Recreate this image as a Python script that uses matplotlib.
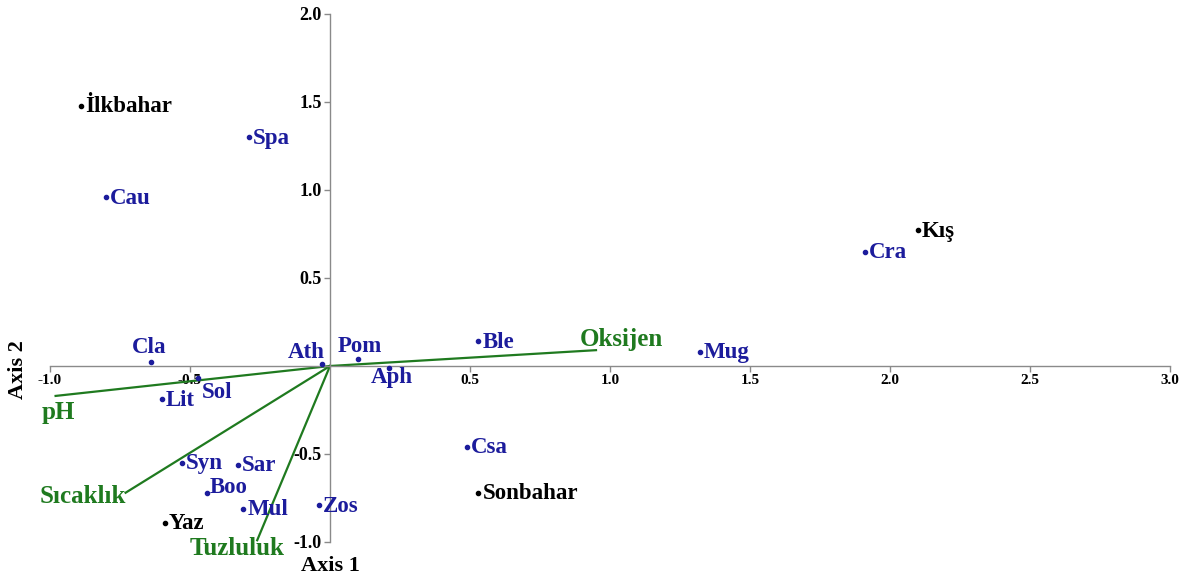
import matplotlib.pyplot as plt

# species scores on the first two axes
species = ['Spa', 'Cau', 'Cra', 'Cla', 'Ath', 'Pom', 'Aph', 'Ble', 'Mug',
           'Lit', 'Sol', 'Csa', 'Syn', 'Sar', 'Boo', 'Mul', 'Zos']
sp_x = [-0.29, -0.80, 1.91, -0.64, -0.03, 0.10, 0.21, 0.53, 1.32,
        -0.60, -0.47, 0.49, -0.53, -0.33, -0.44, -0.31, -0.04]
sp_y = [1.30, 0.96, 0.65, 0.02, 0.01, 0.04, -0.01, 0.14, 0.08,
        -0.19, -0.07, -0.46, -0.55, -0.56, -0.72, -0.81, -0.79]

# seasons
seasons = ['İlkbahar', 'Kış', 'Sonbahar', 'Yaz']
se_x = [-0.89, 2.10, 0.53, -0.59]
se_y = [1.48, 0.77, -0.72, -0.89]

# environmental vectors
env = ['pH', 'Oksijen', 'Sıcaklık', 'Tuzluluk']
env_x = [-0.98, 0.95, -0.73, -0.26]
env_y = [-0.17, 0.09, -0.72, -0.99]

x_ticks = [-1.0, -0.5, 0.5, 1.0, 1.5, 2.0, 2.5, 3.0]
y_ticks = [-1.0, -0.5, 0.5, 1.0, 1.5, 2.0]

blue = '#1c1c9c'
green = '#1f7a1f'
font = 'Liberation Serif'

# label placement: (dx, dy in pixels, ha)
sp_pos = {
    'Cla': (-2, 15, 'center'),
    'Ath': (3, 12, 'right'),
    'Pom': (2, 12, 'center'),
    'Aph': (3, -10, 'center'),
    'Sol': (3, -14, 'left'),
    'Boo': (3, 5, 'left'),
}
env_pos = {
    'pH': (-14, -17, 'left'),
    'Oksijen': (-16, 11, 'left'),
    'Sıcaklık': (0, -4, 'right'),
    'Tuzluluk': (-20, -8, 'center'),
}

fig = plt.figure(figsize=(11.89, 5.82), dpi=100)
ax = fig.add_axes([0, 0, 1, 1])
ax.set_xlim(-330 / 280, (1189 - 330) / 280)
ax.set_ylim((366 - 582) / 176, 366 / 176)

for s in ['top', 'right']:
    ax.spines[s].set_visible(False)
ax.spines['bottom'].set_position(('data', 0))
ax.spines['left'].set_position(('data', 0))
ax.spines['bottom'].set_bounds(-1, 3)
ax.spines['left'].set_bounds(-1, 2)
for s in ['bottom', 'left']:
    ax.spines[s].set_color('#8a8a8a')
    ax.spines[s].set_linewidth(1.0)

ax.set_xticks(x_ticks)
ax.set_yticks(y_ticks)
ax.set_xticklabels(['%.1f' % v for v in x_ticks], fontfamily=font,
                   fontweight='bold', fontsize=11)
ax.set_yticklabels(['%.1f' % v for v in y_ticks], fontfamily=font,
                   fontweight='bold', fontsize=13)
ax.tick_params(axis='both', direction='out', length=4, width=1,
               color='#8a8a8a', pad=2)

# vectors
for name, x, y in zip(env, env_x, env_y):
    ax.plot([0, x], [0, y], color=green, lw=1.6, zorder=2)
    dx, dy, ha = env_pos[name]
    ax.annotate(name, (x, y), xytext=(dx, dy), textcoords='offset pixels',
                ha=ha, va='center', color=green, fontfamily=font,
                fontweight='bold', fontsize=18)

# species
ax.scatter(sp_x, sp_y, s=9, color=blue, zorder=3)
for name, x, y in zip(species, sp_x, sp_y):
    dx, dy, ha = sp_pos.get(name, (4, -1, 'left'))
    ax.annotate(name, (x, y), xytext=(dx, dy), textcoords='offset pixels',
                ha=ha, va='center', color=blue, fontfamily=font,
                fontweight='bold', fontsize=16.5)

# seasons
ax.scatter(se_x, se_y, s=9, color='black', zorder=3)
for name, x, y in zip(seasons, se_x, se_y):
    ax.annotate(name, (x, y), xytext=(4, -1), textcoords='offset pixels',
                ha='left', va='center', color='black', fontfamily=font,
                fontweight='bold', fontsize=16.5)

fig.text(330 / 1189, 1 - 566 / 582, 'Axis 1', ha='center', va='center',
         fontfamily=font, fontweight='bold', fontsize=16)
fig.text(18 / 1189, 1 - 370 / 582, 'Axis 2', ha='center', va='center',
         rotation=90, fontfamily=font, fontweight='bold', fontsize=16)

fig.savefig('out.png', dpi=100)
